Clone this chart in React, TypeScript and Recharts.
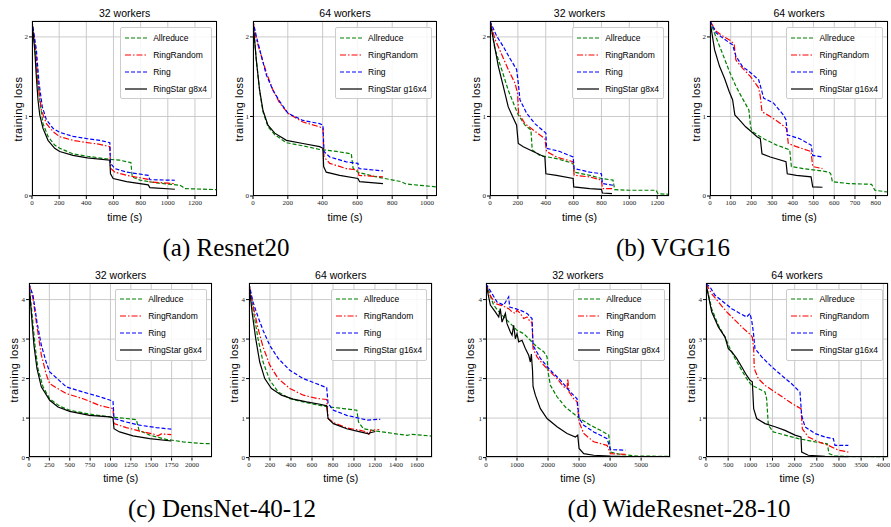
import React from "react";
import { LineChart, Line, XAxis, YAxis, CartesianGrid } from "recharts";

type Pair = [number, number];

// (a) Resnet20 - 32 workers  [time (s), training loss]
const resnet32Allreduce: Pair[] = [[0, 2.2], [20, 1.88], [37, 1.55], [57, 1.21], [81, 0.91], [118, 0.75], [167, 0.64], [204, 0.6], [302, 0.53], [408, 0.5], [573, 0.46], [646, 0.45], [728, 0.42], [738, 0.24], [794, 0.2], [917, 0.165], [1089, 0.135], [1109, 0.115], [1126, 0.093], [1360, 0.08]];
const resnet32RingRandom: Pair[] = [[0, 2.2], [27, 1.84], [44, 1.42], [69, 1.08], [106, 0.91], [155, 0.81], [204, 0.745], [302, 0.7], [408, 0.67], [499, 0.65], [573, 0.62], [578, 0.35], [610, 0.3], [696, 0.26], [856, 0.21], [868, 0.177], [1052, 0.155]];
const resnet32Ring: Pair[] = [[0, 2.2], [32, 1.84], [52, 1.42], [76, 1.12], [106, 0.96], [155, 0.85], [204, 0.8], [302, 0.75], [408, 0.72], [499, 0.7], [573, 0.67], [578, 0.41], [610, 0.345], [696, 0.3], [856, 0.26], [868, 0.205], [1052, 0.198]];
const resnet32RingStar: Pair[] = [[0, 2.2], [20, 1.84], [32, 1.5], [44, 1.21], [57, 1.02], [81, 0.85], [118, 0.7], [167, 0.6], [204, 0.56], [302, 0.51], [408, 0.48], [573, 0.45], [578, 0.28], [598, 0.22], [696, 0.18], [856, 0.14], [868, 0.105], [1052, 0.085]];

// (a) Resnet20 - 64 workers
const resnet64Allreduce: Pair[] = [[0, 2.2], [19, 1.71], [38, 1.33], [57, 1.06], [86, 0.87], [125, 0.77], [192, 0.67], [287, 0.63], [383, 0.585], [402, 0.58], [479, 0.56], [565, 0.53], [575, 0.35], [603, 0.3], [709, 0.24], [805, 0.2], [852, 0.18], [881, 0.15], [1054, 0.115]];
const resnet64RingRandom: Pair[] = [[0, 2.2], [19, 1.97], [48, 1.76], [77, 1.55], [115, 1.33], [153, 1.17], [201, 1.04], [287, 0.93], [383, 0.87], [402, 0.85], [408, 0.49], [441, 0.41], [536, 0.345], [603, 0.325], [609, 0.26], [747, 0.24]];
const resnet64Ring: Pair[] = [[0, 2.2], [19, 2.01], [48, 1.76], [77, 1.52], [115, 1.33], [153, 1.19], [201, 1.04], [287, 0.95], [383, 0.91], [402, 0.89], [408, 0.56], [441, 0.49], [536, 0.43], [603, 0.41], [609, 0.345], [747, 0.315]];
const resnet64RingStar: Pair[] = [[0, 2.2], [19, 1.71], [38, 1.33], [57, 1.08], [86, 0.89], [125, 0.79], [192, 0.7], [287, 0.66], [383, 0.62], [402, 0.6], [406, 0.37], [421, 0.3], [498, 0.26], [603, 0.22], [613, 0.18], [747, 0.155]];

// (b) VGG16 - 32 workers
const vgg32Allreduce: Pair[] = [[0, 2.2], [36, 1.84], [84, 1.59], [131, 1.33], [179, 1.12], [203, 1.02], [251, 0.89], [294, 0.83], [303, 0.58], [358, 0.51], [477, 0.47], [597, 0.41], [604, 0.3], [716, 0.26], [800, 0.22], [883, 0.2], [895, 0.08], [1002, 0.072], [1193, 0.072], [1205, 0.03], [1289, 0.02]];
const vgg32RingRandom: Pair[] = [[0, 2.2], [36, 1.97], [84, 1.78], [131, 1.59], [179, 1.42], [198, 1.29], [205, 1.04], [251, 0.91], [310, 0.83], [394, 0.72], [406, 0.56], [477, 0.49], [597, 0.43], [604, 0.26], [716, 0.24], [800, 0.2], [807, 0.093], [883, 0.093]];
const vgg32Ring: Pair[] = [[0, 2.2], [48, 2.01], [95, 1.88], [143, 1.73], [191, 1.59], [203, 1.42], [215, 1.21], [263, 1.04], [322, 0.91], [401, 0.79], [406, 0.6], [501, 0.56], [597, 0.49], [604, 0.345], [716, 0.3], [800, 0.28], [807, 0.156], [883, 0.135]];
const vgg32RingStar: Pair[] = [[0, 2.2], [24, 1.97], [60, 1.63], [95, 1.38], [131, 1.12], [167, 0.98], [191, 0.89], [203, 0.66], [239, 0.62], [310, 0.56], [394, 0.49], [401, 0.28], [477, 0.26], [597, 0.22], [601, 0.114], [716, 0.093], [800, 0.084], [807, 0.038], [876, 0.03]];

// (b) VGG16 - 64 workers
const vgg64Allreduce: Pair[] = [[0, 2.2], [30, 1.99], [62, 1.78], [93, 1.57], [125, 1.38], [156, 1.23], [188, 1.08], [196, 0.87], [204, 0.81], [259, 0.72], [322, 0.64], [385, 0.58], [393, 0.37], [449, 0.345], [528, 0.32], [575, 0.3], [583, 0.28], [591, 0.18], [670, 0.156], [780, 0.147], [796, 0.072], [859, 0.05]];
const vgg64RingRandom: Pair[] = [[0, 2.2], [30, 2.07], [62, 2.01], [101, 1.95], [117, 1.9], [125, 1.71], [156, 1.61], [196, 1.5], [235, 1.36], [243, 1.25], [251, 1.06], [291, 1.0], [330, 0.93], [370, 0.85], [378, 0.66], [417, 0.62], [488, 0.56], [496, 0.37], [543, 0.345]];
const vgg64Ring: Pair[] = [[0, 2.2], [30, 2.05], [70, 1.97], [109, 1.9], [125, 1.76], [156, 1.63], [196, 1.55], [235, 1.46], [246, 1.36], [259, 1.23], [306, 1.17], [354, 1.02], [367, 0.96], [373, 0.77], [433, 0.72], [488, 0.64], [496, 0.51], [543, 0.49]];
const vgg64RingStar: Pair[] = [[0, 2.2], [22, 1.84], [46, 1.63], [70, 1.48], [93, 1.31], [109, 1.21], [120, 1.02], [141, 0.96], [172, 0.87], [199, 0.81], [227, 0.745], [243, 0.72], [251, 0.53], [291, 0.49], [367, 0.43], [373, 0.28], [417, 0.26], [488, 0.24], [496, 0.114], [543, 0.11]];

// (c) DensNet-40-12 - 32 workers
const dens32Allreduce: Pair[] = [[0, 4.4], [37, 3.65], [74, 2.84], [110, 2.25], [172, 1.79], [254, 1.49], [376, 1.3], [499, 1.2], [744, 1.1], [990, 1.03], [1194, 0.99], [1317, 0.96], [1350, 0.69], [1481, 0.57], [1685, 0.46], [1890, 0.4], [2094, 0.36], [2245, 0.35]];
const dens32RingRandom: Pair[] = [[0, 4.4], [49, 4.03], [90, 3.43], [151, 2.6], [213, 2.1], [254, 1.87], [458, 1.62], [663, 1.49], [867, 1.32], [1031, 1.24], [1043, 0.86], [1194, 0.76], [1358, 0.67], [1521, 0.6], [1583, 0.55], [1624, 0.6], [1746, 0.58]];
const dens32Ring: Pair[] = [[0, 4.4], [49, 4.11], [98, 3.43], [151, 2.85], [213, 2.4], [254, 2.17], [458, 1.79], [663, 1.66], [867, 1.54], [1031, 1.43], [1043, 0.99], [1194, 0.9], [1358, 0.82], [1562, 0.76], [1746, 0.72]];
const dens32RingStar: Pair[] = [[0, 4.4], [29, 3.65], [61, 2.84], [98, 2.25], [151, 1.79], [254, 1.45], [356, 1.28], [499, 1.17], [744, 1.07], [990, 1.03], [1031, 1.01], [1043, 0.73], [1112, 0.65], [1276, 0.55], [1481, 0.48], [1746, 0.42]];

// (c) DensNet-40-12 - 64 workers
const dens64Allreduce: Pair[] = [[0, 4.4], [38, 3.77], [86, 3.01], [134, 2.42], [198, 1.96], [278, 1.66], [389, 1.49], [517, 1.41], [676, 1.32], [772, 1.28], [900, 1.24], [1027, 1.2], [1043, 0.9], [1091, 0.73], [1219, 0.67], [1378, 0.61], [1506, 0.565], [1554, 0.59], [1751, 0.54]];
const dens64RingRandom: Pair[] = [[0, 4.4], [38, 3.86], [86, 3.27], [134, 2.8], [198, 2.34], [278, 2.0], [389, 1.75], [517, 1.58], [644, 1.5], [740, 1.47], [753, 0.99], [804, 0.89], [931, 0.75], [1059, 0.69], [1123, 0.65], [1139, 0.57], [1161, 0.69], [1240, 0.71]];
const dens64Ring: Pair[] = [[0, 4.4], [38, 3.94], [86, 3.56], [134, 3.22], [198, 2.84], [278, 2.51], [389, 2.21], [517, 2.0], [644, 1.87], [740, 1.77], [753, 1.37], [804, 1.2], [931, 1.07], [1059, 0.99], [1123, 0.95], [1250, 0.97]];
const dens64RingStar: Pair[] = [[0, 4.4], [29, 3.69], [64, 3.01], [102, 2.42], [150, 2.0], [214, 1.75], [309, 1.58], [421, 1.48], [549, 1.41], [676, 1.35], [740, 1.31], [753, 0.99], [804, 0.86], [931, 0.73], [1059, 0.65], [1139, 0.6], [1155, 0.63], [1203, 0.66]];

// (d) WideResnet-28-10 - 32 workers
const wide32Allreduce: Pair[] = [[0, 4.4], [247, 3.86], [462, 3.65], [677, 3.48], [892, 3.31], [1000, 3.22], [1215, 3.14], [1430, 2.97], [1645, 2.8], [1860, 2.68], [1968, 2.55], [2000, 2.17], [2075, 1.83], [2290, 1.54], [2559, 1.28], [2828, 1.11], [3000, 1.0], [3366, 0.82], [3688, 0.69], [3957, 0.57], [4011, 0.14], [4333, 0.08], [4871, 0.04], [5946, 0.03]];
const wide32RingRandom: Pair[] = [[0, 4.4], [140, 4.1], [301, 3.9], [462, 3.86], [624, 3.81], [731, 3.77], [839, 3.69], [946, 3.65], [1000, 3.73], [1107, 3.65], [1215, 3.52], [1322, 3.56], [1430, 3.43], [1484, 3.43], [1516, 2.76], [1645, 2.55], [1860, 2.34], [2075, 2.17], [2290, 2.0], [2505, 1.79], [2613, 1.75], [2634, 2.0], [2677, 1.66], [2828, 1.49], [2935, 1.41], [3000, 0.9], [3150, 0.61], [3473, 0.4], [3903, 0.31], [4011, 0.1], [4495, 0.08]];
const wide32Ring: Pair[] = [[0, 4.4], [194, 4.15], [355, 3.94], [570, 3.86], [731, 4.07], [763, 3.81], [946, 3.77], [1107, 3.73], [1322, 3.65], [1484, 3.52], [1516, 2.84], [1753, 2.51], [2075, 2.21], [2398, 1.96], [2720, 1.66], [2935, 1.49], [3000, 0.99], [3150, 0.82], [3473, 0.65], [3903, 0.48], [4011, 0.2], [4495, 0.19]];
const wide32RingStar: Pair[] = [[0, 4.4], [140, 3.86], [300, 3.69], [410, 3.56], [460, 3.77], [516, 3.43], [624, 3.65], [677, 3.39], [785, 3.18], [839, 3.1], [892, 3.35], [946, 3.01], [1000, 3.14], [1054, 2.93], [1161, 2.97], [1269, 2.76], [1376, 2.59], [1430, 2.42], [1462, 2.62], [1500, 2.2], [1516, 1.8], [1591, 1.58], [1753, 1.24], [1968, 0.99], [2290, 0.78], [2613, 0.61], [2882, 0.52], [2957, 0.57], [3000, 0.23], [3150, 0.1], [3473, 0.06], [4000, 0.035], [4495, 0.025]];

// (d) WideResnet-28-10 - 64 workers
const wide64Allreduce: Pair[] = [[0, 4.4], [128, 3.77], [278, 3.35], [429, 3.05], [541, 2.76], [654, 2.51], [805, 2.21], [917, 2.0], [1030, 1.83], [1180, 1.75], [1331, 1.66], [1368, 1.49], [1406, 0.82], [1519, 0.65], [1782, 0.57], [2083, 0.48], [2459, 0.4], [2737, 0.35], [2774, 0.1], [2910, 0.04], [3286, 0.025], [4113, 0.017]];
const wide64RingRandom: Pair[] = [[0, 4.4], [128, 4.15], [278, 3.94], [466, 3.69], [654, 3.48], [842, 3.27], [1015, 3.1], [1045, 3.05], [1075, 2.76], [1090, 2.25], [1180, 2.0], [1331, 1.83], [1556, 1.66], [1782, 1.49], [2008, 1.32], [2143, 1.24], [2173, 0.73], [2308, 0.52], [2534, 0.4], [2760, 0.31], [2985, 0.19], [3211, 0.14]];
const wide64Ring: Pair[] = [[0, 4.4], [90, 4.32], [203, 4.11], [391, 3.94], [579, 3.77], [767, 3.65], [917, 3.56], [992, 3.65], [1030, 3.48], [1068, 3.18], [1105, 2.76], [1256, 2.55], [1481, 2.3], [1707, 2.08], [1932, 1.87], [2120, 1.66], [2158, 1.07], [2233, 0.78], [2459, 0.61], [2684, 0.52], [2872, 0.48], [2910, 0.31], [3211, 0.31]];
const wide64RingStar: Pair[] = [[0, 4.4], [128, 3.69], [278, 3.31], [429, 3.05], [504, 2.76], [579, 2.68], [692, 2.51], [805, 2.3], [917, 2.08], [992, 1.96], [1045, 1.92], [1075, 1.24], [1143, 0.99], [1331, 0.86], [1556, 0.78], [1782, 0.69], [2008, 0.57], [2143, 0.52], [2158, 0.14], [2308, 0.06], [2684, 0.03], [3211, 0.02]];

const ticksResnet32 = [0, 200, 400, 600, 800, 1000, 1200];
const ticksResnet64 = [0, 200, 400, 600, 800, 1000];
const ticksVgg32 = [0, 200, 400, 600, 800, 1000, 1200];
const ticksVgg64 = [0, 100, 200, 300, 400, 500, 600, 700, 800];
const ticksDens32 = [0, 250, 500, 750, 1000, 1250, 1500, 1750, 2000];
const ticksDens64 = [0, 200, 400, 600, 800, 1000, 1200, 1400, 1600];
const ticksWide32 = [0, 1000, 2000, 3000, 4000, 5000];
const ticksWide64 = [0, 500, 1000, 1500, 2000, 2500, 3000, 3500, 4000];
const lossTicksSmall = [0, 1, 2];
const lossTicksLarge = [0, 1, 2, 3, 4];

const SERIES = [
  { name: "Allreduce", color: "#008000", dash: "4 2" },
  { name: "RingRandom", color: "#ff0000", dash: "6 2 1.5 2" },
  { name: "Ring", color: "#0000ff", dash: "4 2" },
  { name: "RingStar", color: "#000000", dash: undefined as string | undefined },
];

const PANELS = [
  { left: 32.3, top: 21, right: 217, bottom: 196, xMax: 1360, xTicks: ticksResnet32, yMax: 2.2, yTicks: lossTicksSmall, title: "32 workers", star: "RingStar g8x4", lines: [resnet32Allreduce, resnet32RingRandom, resnet32Ring, resnet32RingStar] },
  { left: 253.3, top: 21, right: 436.7, bottom: 196, xMax: 1054, xTicks: ticksResnet64, yMax: 2.2, yTicks: lossTicksSmall, title: "64 workers", star: "RingStar g16x4", lines: [resnet64Allreduce, resnet64RingRandom, resnet64Ring, resnet64RingStar] },
  { left: 490, top: 21, right: 669, bottom: 196, xMax: 1285, xTicks: ticksVgg32, yMax: 2.2, yTicks: lossTicksSmall, title: "32 workers", star: "RingStar g8x4", lines: [vgg32Allreduce, vgg32RingRandom, vgg32Ring, vgg32RingStar] },
  { left: 710.3, top: 21, right: 888, bottom: 196, xMax: 858, xTicks: ticksVgg64, yMax: 2.2, yTicks: lossTicksSmall, title: "64 workers", star: "RingStar g16x4", lines: [vgg64Allreduce, vgg64RingRandom, vgg64Ring, vgg64RingStar] },
  { left: 29.3, top: 282.7, right: 212, bottom: 457.3, xMax: 2242, xTicks: ticksDens32, yMax: 4.42, yTicks: lossTicksLarge, title: "32 workers", star: "RingStar g8x4", lines: [dens32Allreduce, dens32RingRandom, dens32Ring, dens32RingStar] },
  { left: 249.3, top: 282.7, right: 432.3, bottom: 457.3, xMax: 1743, xTicks: ticksDens64, yMax: 4.42, yTicks: lossTicksLarge, title: "64 workers", star: "RingStar g16x4", lines: [dens64Allreduce, dens64RingRandom, dens64Ring, dens64RingStar] },
  { left: 485.7, top: 282.7, right: 670, bottom: 457.3, xMax: 5940, xTicks: ticksWide32, yMax: 4.42, yTicks: lossTicksLarge, title: "32 workers", star: "RingStar g8x4", lines: [wide32Allreduce, wide32RingRandom, wide32Ring, wide32RingStar] },
  { left: 706, top: 282.7, right: 888, bottom: 457.3, xMax: 4106, xTicks: ticksWide64, yMax: 4.42, yTicks: lossTicksLarge, title: "64 workers", star: "RingStar g16x4", lines: [wide64Allreduce, wide64RingRandom, wide64Ring, wide64RingStar] },
];

const CAPTIONS = [
  { text: "(a) Resnet20", cx: 226, top: 233 },
  { text: "(b) VGG16", cx: 673, top: 233 },
  { text: "(c) DensNet-40-12", cx: 222, top: 494 },
  { text: "(d) WideResnet-28-10", cx: 679, top: 494 },
];

const SANS = "'Liberation Sans', 'DejaVu Sans', sans-serif";
const SERIF = "'Liberation Serif', 'DejaVu Serif', serif";
const tickStyle = { fontSize: 7, fontFamily: SERIF, fill: "#222" };

const toPoints = (pairs: Pair[]) => pairs.map(([t, loss]) => ({ t, loss }));

function Panel({ p }: { p: (typeof PANELS)[number] }) {
  const w = p.right - p.left;
  const h = p.bottom - p.top;
  return (
    <>
      <div style={{ position: "absolute", left: p.left - 30, top: p.top - 2 }}>
        <LineChart width={w + 32} height={h + 22} margin={{ top: 2, right: 2, bottom: 0, left: 0 }}>
          <CartesianGrid stroke="#c4c4c4" strokeWidth={0.9} />
          <XAxis
            type="number"
            dataKey="t"
            domain={[0, p.xMax]}
            ticks={p.xTicks}
            interval={0}
            allowDataOverflow
            height={20}
            axisLine={false}
            tickSize={3}
            tickMargin={1}
            tickLine={{ stroke: "#000" }}
            tick={tickStyle}
          />
          <YAxis
            type="number"
            domain={[0, p.yMax]}
            ticks={p.yTicks}
            interval={0}
            allowDataOverflow
            width={30}
            axisLine={false}
            tickSize={3}
            tickMargin={1}
            tickLine={{ stroke: "#000" }}
            tick={tickStyle}
          />
          {SERIES.map((s, i) => (
            <Line
              key={s.name}
              data={toPoints(p.lines[i])}
              dataKey="loss"
              type="linear"
              stroke={s.color}
              strokeWidth={1.2}
              strokeDasharray={s.dash}
              dot={false}
              activeDot={false}
              isAnimationActive={false}
            />
          ))}
        </LineChart>
      </div>
      <div
        style={{
          position: "absolute",
          left: p.left,
          top: p.top,
          width: w,
          height: h,
          border: "1px solid #000",
          boxSizing: "border-box",
        }}
      />
      <div
        style={{
          position: "absolute",
          left: p.left,
          top: p.top - 15,
          width: w,
          lineHeight: "15px",
          textAlign: "center",
          fontFamily: SANS,
          fontSize: 10.5,
        }}
      >
        {p.title}
      </div>
      <div
        style={{
          position: "absolute",
          left: p.left - 15 - h / 2,
          top: p.top + h / 2 - 7,
          width: h,
          lineHeight: "14px",
          textAlign: "center",
          fontFamily: SANS,
          fontSize: 11,
          letterSpacing: 0.5,
          transform: "rotate(-90deg)",
        }}
      >
        training loss
      </div>
      <div
        style={{
          position: "absolute",
          left: p.left,
          top: p.bottom + 14,
          width: w,
          lineHeight: "14px",
          textAlign: "center",
          fontFamily: SANS,
          fontSize: 10.5,
        }}
      >
        time (s)
      </div>
      <div
        style={{
          position: "absolute",
          right: 891 - (p.right - 5),
          top: p.top + 6,
          height: 72,
          boxSizing: "border-box",
          border: "1px solid #cccccc",
          borderRadius: 2,
          background: "rgba(255,255,255,0.85)",
          padding: "1px 4px 0 4px",
          fontFamily: SANS,
          fontSize: 8.5,
        }}
      >
        {SERIES.map((s) => (
          <div key={s.name} style={{ display: "flex", alignItems: "center", height: 17 }}>
            <svg width={22} height={4} style={{ marginRight: 6 }}>
              <line x1={0} y1={2} x2={22} y2={2} stroke={s.color} strokeWidth={1.2} strokeDasharray={s.dash} />
            </svg>
            <span style={{ whiteSpace: "nowrap" }}>{s.name === "RingStar" ? p.star : s.name}</span>
          </div>
        ))}
      </div>
    </>
  );
}

export default function App() {
  return (
    <div style={{ position: "absolute", left: 0, top: 0, width: 891, height: 527, background: "#fff", overflow: "hidden" }}>
      {PANELS.map((p, i) => (
        <Panel key={i} p={p} />
      ))}
      {CAPTIONS.map((c) => (
        <div
          key={c.text}
          style={{
            position: "absolute",
            left: c.cx - 200,
            top: c.top,
            width: 400,
            lineHeight: "30px",
            textAlign: "center",
            fontFamily: SERIF,
            fontSize: 25,
          }}
        >
          {c.text}
        </div>
      ))}
    </div>
  );
}
